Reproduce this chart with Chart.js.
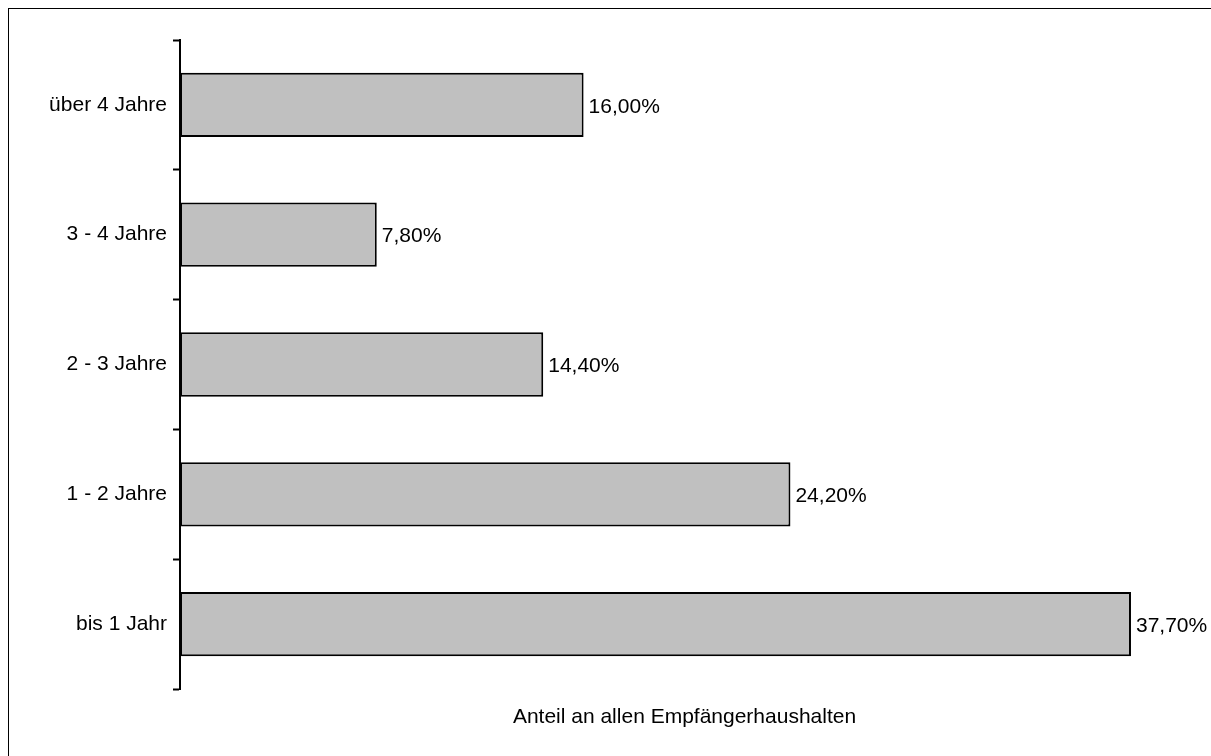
<!DOCTYPE html>
<html>
<head>
<meta charset="utf-8">
<script src="https://cdn.jsdelivr.net/npm/chart.js@4"></script>
<style>
  html, body { margin: 0; padding: 0; background: #fff; overflow: hidden; }
  #wrap { position: relative; width: 1211px; height: 756px; }
  #frame { position: absolute; left: 8px; top: 8px; width: 1400px; height: 1000px;
           border-left: 1px solid #000; border-top: 1px solid #000; pointer-events: none; }
</style>
</head>
<body>
<div id="wrap">
  <canvas id="chart" width="1211" height="756"></canvas>
  <div id="frame"></div>
</div>
<script>
const categories = ['über 4 Jahre', '3 - 4 Jahre', '2 - 3 Jahre', '1 - 2 Jahre', 'bis 1 Jahr'];
const shares = [16.0, 7.8, 14.4, 24.2, 37.7];
const axisTitle = 'Anteil an allen Empfängerhaushalten';

const FONT = '"Liberation Sans", Arial, sans-serif';

// value labels at the end of each bar
const barLabels = {
    id: 'barLabels',
    afterDatasetsDraw(chart) {
        const ctx = chart.ctx;
        const meta = chart.getDatasetMeta(0);
        ctx.save();
        ctx.font = '21px ' + FONT;
        ctx.fillStyle = '#000';
        ctx.textAlign = 'left';
        ctx.textBaseline = 'middle';
        meta.data.forEach((bar, i) => {
            const txt = shares[i].toFixed(2).replace('.', ',') + '%';
            ctx.fillText(txt, bar.x + 5, bar.y + 2);
        });
        ctx.restore();
    }
};

const ctx = document.getElementById('chart').getContext('2d');
new Chart(ctx, {
    type: 'bar',
    data: {
        labels: categories,
        datasets: [{
            data: shares,
            backgroundColor: '#c0c0c0',
            borderColor: '#000',
            borderWidth: 2,
            borderSkipped: false,
            categoryPercentage: 1,
            barPercentage: 0.495
        }]
    },
    options: {
        indexAxis: 'y',
        responsive: false,
        animation: false,
        layout: { padding: { top: 40, right: 22, left: 0, bottom: 0 } },
        plugins: {
            legend: { display: false },
            tooltip: { enabled: false }
        },
        scales: {
            x: {
                min: 0,
                max: 40,
                grid: { display: false, drawTicks: false },
                border: { display: false },
                ticks: { display: false },
                title: {
                    display: true,
                    text: axisTitle,
                    color: '#000',
                    font: { family: FONT, size: 21 },
                    padding: { top: 4, bottom: 26 }
                },
                afterFit(scale) { scale.height = 67; }
            },
            y: {
                grid: {
                    offset: true,
                    drawOnChartArea: false,
                    drawTicks: true,
                    tickLength: 7,
                    tickWidth: 2,
                    color: '#000'
                },
                border: { display: true, color: '#000', width: 2 },
                ticks: {
                    color: '#000',
                    padding: 6,
                    font: { family: FONT, size: 21 }
                },
                afterFit(scale) { scale.width = 180; }
            }
        }
    },
    plugins: [barLabels]
});
</script>
</body>
</html>
